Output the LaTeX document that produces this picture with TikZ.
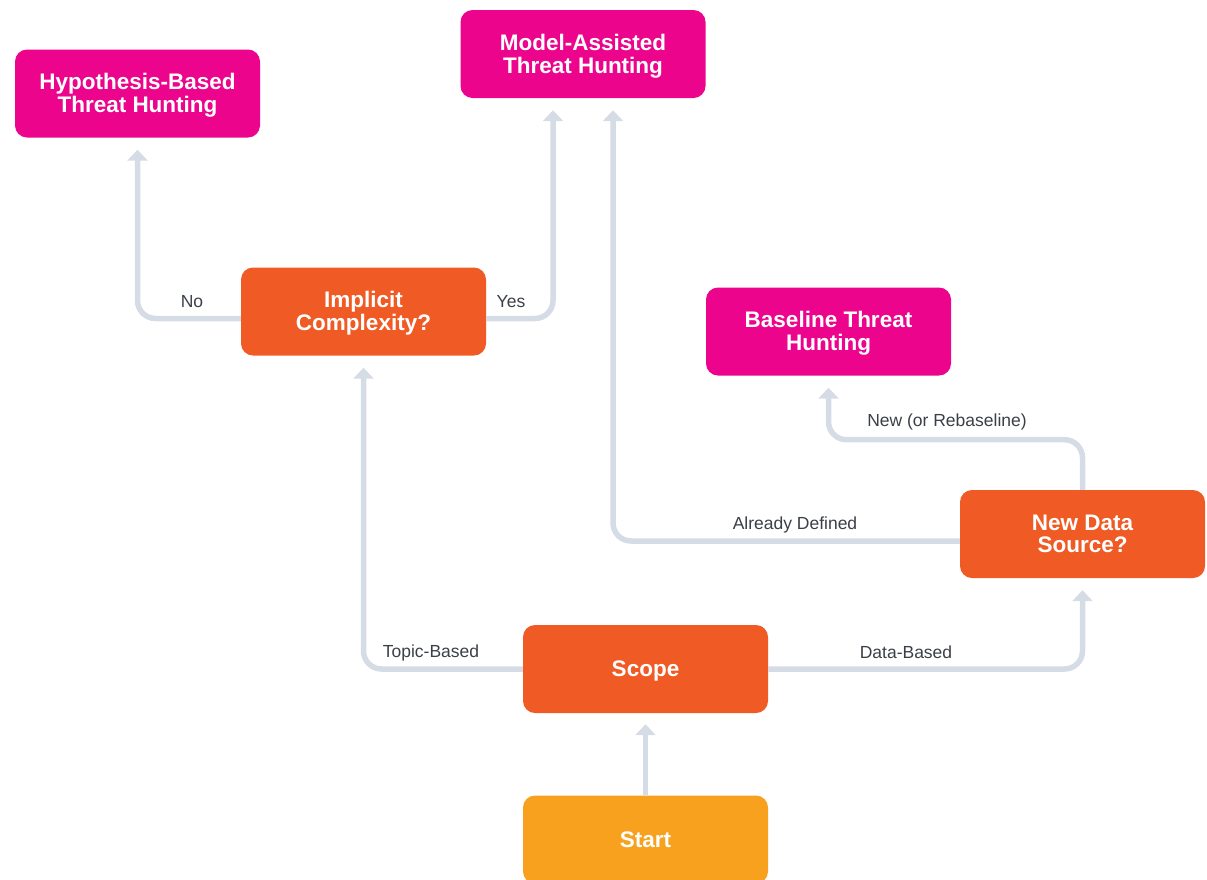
\documentclass[tikz,border=0pt]{standalone}
\usepackage{fontspec}
\setmainfont{Liberation Sans}
\usetikzlibrary{arrows.meta,calc}
\definecolor{hunt}{HTML}{EC058C}
\definecolor{decide}{HTML}{F05A24}
\definecolor{begin}{HTML}{F8A11E}
\definecolor{wire}{HTML}{D6DCE5}
\definecolor{labelgray}{HTML}{3B3F47}
% box caption: centred lines, set slightly low so the capitals sit centred
\newcommand\boxcaption[1]{\raisebox{-3pt}[\height][\depth]{%
  \begin{tabular}{@{}c@{}}#1\end{tabular}}}
\tikzset{
  box/.style={rounded corners=12pt, minimum width=245pt, minimum height=88pt,
    text=white, inner sep=0pt,
    font=\fontsize{22.5}{22}\selectfont\bfseries},
  huntbox/.style={box, fill=hunt},
  decidebox/.style={box, fill=decide},
  beginbox/.style={box, fill=begin},
  conn/.style={draw=wire, line width=5.5pt, rounded corners=18pt,
    -{Triangle[width=20pt,length=11pt]}},
  lbl/.style={text=labelgray, anchor=base, inner sep=0pt,
    font=\fontsize{17.5}{20}\selectfont}
}
\begin{document}
\begin{tikzpicture}[x=1pt,y=-1pt]
\clip (0,0) rectangle (1207,879);

% process boxes
\node[huntbox]   (hyp)   at (137.5,93.5) {\boxcaption{Hypothesis-Based\\Threat Hunting}};
\node[huntbox]   (model) at (583,54)     {\boxcaption{Model-Assisted\\Threat Hunting}};
\node[decidebox] (impl)  at (363.5,311.5){\boxcaption{Implicit\\Complexity?}};
\node[huntbox]   (base)  at (828.5,331.5){\boxcaption{Baseline Threat\\Hunting}};
\node[decidebox] (nds)   at (1082.5,534) {\boxcaption{New Data\\Source?}};
\node[decidebox] (scope) at (645.5,669)  {\boxcaption{Scope}};
\node[beginbox]  (start) at (645.5,839.5){\boxcaption{Start}};

% connectors
\draw[conn] (start.north) -- ([yshift=-11pt]scope.south);
\draw[conn] (scope.west) -| ([yshift=-12pt]impl.south);
\draw[conn] (scope.east) -| ([yshift=-12pt]nds.south);
\draw[conn] ([yshift=-7pt]impl.west) -| ([yshift=-12pt]hyp.south);
\draw[conn] ([yshift=-7pt]impl.east) -| ([xshift=-30pt,yshift=-12pt]model.south);
\draw[conn] ([yshift=-7pt]nds.west) -| ([xshift=30pt,yshift=-12pt]model.south);
\draw[conn] (nds.north) |- ($(base.south)+(0,64)$) -- ([yshift=-12pt]base.south);

% branch labels
\node[lbl] (lno)    at (192,307)   {No};
\node[lbl] (lyes)   at (511,307)   {Yes};
\node[lbl] (ltopic) at (431,657)   {Topic-Based};
\node[lbl] (ldata)  at (906,658)   {Data-Based};
\node[lbl] (ldef)   at (795,529)   {Already Defined};
\node[lbl] (lnew)   at (947,426)   {New (or Rebaseline)};
\end{tikzpicture}
\end{document}
